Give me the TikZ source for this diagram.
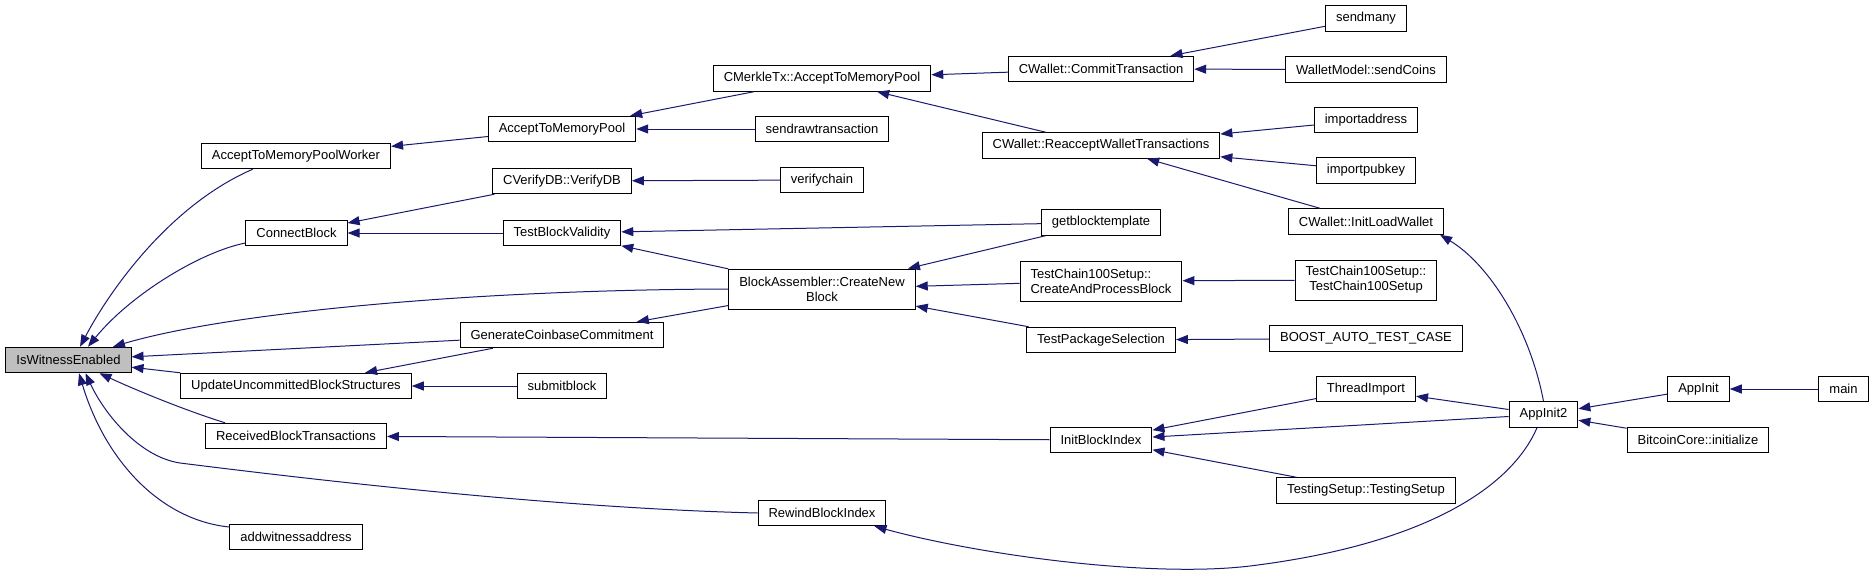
\documentclass[tikz,border=0pt]{standalone}
\usepackage{fontspec}
\setmainfont{Liberation Sans}
\usepackage{tikz}
\usetikzlibrary{arrows.meta}
\definecolor{midblue}{HTML}{191970}
\definecolor{nodegray}{HTML}{BFBFBF}

\begin{document}
\begin{tikzpicture}[x=1pt,y=-1pt,
  fn/.style={draw=black,line width=1pt,fill=white,inner xsep=10.5pt,inner ysep=2pt,
    minimum height=25.5pt,font=\fontsize{13}{15}\selectfont},
  twoline/.style={fn,minimum height=40pt,align=center},
  call/.style={midblue,line width=1pt,-{Triangle[length=12pt,width=9pt]}}]
  \useasboundingbox (0,0) rectangle (1875,576);

  % functions, column by column
  \node[fn,fill=nodegray] (iwe) at (68.5,360) {IsWitnessEnabled};

  \node[fn] (atmpw) at (296,156) {AcceptToMemoryPoolWorker};
  \node[fn] (cb) at (296.5,233) {ConnectBlock};
  \node[fn] (uubs) at (296,386) {UpdateUncommittedBlockStructures};
  \node[fn] (rbt) at (296,436) {ReceivedBlockTransactions};
  \node[fn] (awa) at (296,537) {addwitnessaddress};

  \node[fn] (atmp) at (562,129) {AcceptToMemoryPool};
  \node[fn] (vdb) at (562,181) {CVerifyDB::VerifyDB};
  \node[fn] (tbv) at (562,233) {TestBlockValidity};
  \node[fn] (gcc) at (562,335) {GenerateCoinbaseCommitment};
  \node[fn] (sbk) at (562,386) {submitblock};

  \node[fn] (cmtx) at (822,78.5) {CMerkleTx::AcceptToMemoryPool};
  \node[fn] (srt) at (822,129) {sendrawtransaction};
  \node[fn] (vch) at (822,180) {verifychain};
  \node[twoline] (cnb) at (822,289) {BlockAssembler::CreateNew\\Block};
  \node[fn] (rbi) at (822,513) {RewindBlockIndex};

  \node[fn] (ctx) at (1101,69) {CWallet::CommitTransaction};
  \node[fn] (rwt) at (1101,145.5) {CWallet::ReacceptWalletTransactions};
  \node[fn] (gbt) at (1101,222.5) {getblocktemplate};
  \node[twoline,align=left] (capb) at (1101,281) {TestChain100Setup::\\CreateAndProcessBlock};
  \node[fn] (tps) at (1101,340) {TestPackageSelection};
  \node[fn] (ibi) at (1101,440) {InitBlockIndex};

  \node[fn] (smany) at (1366,18.5) {sendmany};
  \node[fn] (scoins) at (1366,69.5) {WalletModel::sendCoins};
  \node[fn] (iaddr) at (1366,120) {importaddress};
  \node[fn] (ipub) at (1366,170.5) {importpubkey};
  \node[fn] (ilw) at (1366,221.5) {CWallet::InitLoadWallet};
  \node[twoline] (tcs) at (1366,280) {TestChain100Setup::\\TestChain100Setup};
  \node[fn] (boost) at (1366,338.5) {BOOST\_AUTO\_TEST\_CASE};
  \node[fn] (ti) at (1366,389) {ThreadImport};
  \node[fn] (ts) at (1366,490.5) {TestingSetup::TestingSetup};

  \node[fn] (ai2) at (1543.5,414.5) {AppInit2};
  \node[fn] (ai) at (1698.5,389) {AppInit};
  \node[fn] (bci) at (1698,440) {BitcoinCore::initialize};
  \node[fn] (mainfn) at (1843.5,389) {main};

  % callers of IsWitnessEnabled
  \draw[call] (atmpw.197) .. controls (170,205) and (110,290) .. ([xshift=11.5pt]iwe.north);
  \draw[call] ([yshift=-10pt]cb.west) .. controls (200,252) and (130,295) .. ([xshift=19.5pt]iwe.north);
  \draw[call] (cnb.west) .. controls (450,290) and (220,315) .. ([xshift=44.5pt]iwe.north);
  \draw[call] (gcc) -- (iwe);
  \draw[call] (uubs) -- (iwe);
  \draw[call] ([xshift=-71pt]rbt.north) .. controls (190,412) and (140,392) .. ([xshift=31pt]iwe.south);
  \draw[call] (rbi.west) .. controls (550,508) and (300,478) .. (180,463)
    .. controls (140,457) and (105,415) .. ([xshift=17pt]iwe.south);
  \draw[call] ([yshift=10pt]awa.west) .. controls (160,520) and (105,460) .. ([xshift=10.5pt]iwe.south);

  % second level
  \draw[call] (atmp) -- (atmpw);
  \draw[call] (vdb) -- (cb);
  \draw[call] (tbv) -- (cb);
  \draw[call] (gcc) -- (uubs);
  \draw[call] (sbk) -- (uubs);
  \draw[call] (ibi) -- (rbt);

  % third level
  \draw[call] (cmtx) -- (atmp);
  \draw[call] (srt) -- (atmp);
  \draw[call] (vch) -- (vdb);
  \draw[call] (gbt) -- (tbv);
  \draw[call] (cnb) -- (tbv);
  \draw[call] (cnb) -- (gcc);
  \draw[call] (ai2.south) ++(-6.5,0) .. controls (1510,490) and (1420,545) .. (1250,566)
    .. controls (1150,578) and (980,555) .. ([xshift=-12pt]rbi.south east);

  % fourth level
  \draw[call] (ctx) -- (cmtx);
  \draw[call] (rwt) -- (cmtx);
  \draw[call] (gbt) -- (cnb);
  \draw[call] (capb) -- (cnb);
  \draw[call] (tps) -- (cnb);
  \draw[call] (ti) -- (ibi);
  \draw[call] (ai2) -- (ibi);
  \draw[call] (ts) -- (ibi);

  % fifth level and beyond
  \draw[call] (smany) -- (ctx);
  \draw[call] (scoins) -- (ctx);
  \draw[call] (iaddr) -- (rwt);
  \draw[call] (ipub) -- (rwt);
  \draw[call] (ilw) -- (rwt);
  \draw[call] (tcs) -- (capb);
  \draw[call] (boost) -- (tps);
  \draw[call] (ai2.north) .. controls (1530,330) and (1490,265) .. ([xshift=-4pt]ilw.south east);
  \draw[call] (ai2) -- (ti);
  \draw[call] (ai) -- (ai2);
  \draw[call] (bci) -- (ai2);
  \draw[call] (mainfn) -- (ai);
\end{tikzpicture}
\end{document}
